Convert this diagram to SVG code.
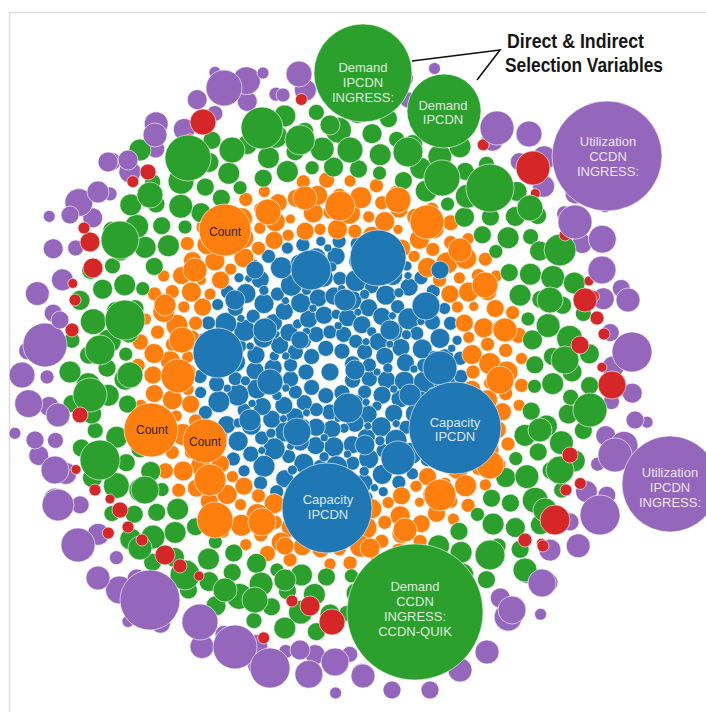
<svg xmlns="http://www.w3.org/2000/svg" width="706" height="712" viewBox="0 0 706 712">
<style>
.b{fill:#1f77b4}.o{fill:#ff7f0e}.g{fill:#2ca02c}.r{fill:#d62728}.p{fill:#9467bd}
.lt{font-family:"Liberation Sans",Arial,sans-serif;font-size:13px;fill:#fff;fill-opacity:.85;text-anchor:middle;stroke:none}
.ct{font-family:"Liberation Sans",Arial,sans-serif;font-size:12px;fill:#3a1e08;text-anchor:middle;stroke:none}
.ann{font-family:"Liberation Sans",Arial,sans-serif;font-weight:bold;font-size:21px;fill:#161616}
</style>
<defs>
<g id="wb">
<circle transform="rotate(20)" cx="24" r="8"/><circle transform="rotate(10)" cx="40" r="8"/><circle transform="rotate(30)" cx="40" r="7"/>
<circle transform="rotate(8)" cx="57" r="9"/><circle transform="rotate(24)" cx="57" r="9"/><circle transform="rotate(36)" cx="58" r="5"/>
<circle transform="rotate(7)" cx="75" r="10"/><circle transform="rotate(21)" cx="75" r="9"/><circle transform="rotate(33)" cx="76" r="9"/>
<circle transform="rotate(6)" cx="95" r="11"/><circle transform="rotate(16)" cx="95" r="7"/><circle transform="rotate(26)" cx="95" r="10"/><circle transform="rotate(36)" cx="94" r="7"/>
<circle transform="rotate(5)" cx="115" r="11"/><circle transform="rotate(14)" cx="114" r="8"/><circle transform="rotate(23)" cx="115" r="10"/><circle transform="rotate(33)" cx="116" r="9"/>
<circle transform="rotate(2)" cx="131" r="7"/><circle transform="rotate(11)" cx="131" r="6"/><circle transform="rotate(18)" cx="130" r="7"/><circle transform="rotate(26)" cx="131" r="5"/><circle transform="rotate(34)" cx="131" r="7"/>
<circle transform="rotate(14)" cx="85" r="5"/><circle transform="rotate(11)" cx="104" r="4"/><circle transform="rotate(31)" cx="105" r="5"/><circle transform="rotate(15)" cx="66" r="4"/><circle transform="rotate(38)" cx="84" r="4"/><circle transform="rotate(29)" cx="124" r="4"/><circle transform="rotate(0)" cx="47" r="4"/>
</g>
<g id="wo">
<circle transform="rotate(3)" cx="143" r="9"/><circle transform="rotate(9)" cx="143" r="6"/><circle transform="rotate(16)" cx="143" r="10"/><circle transform="rotate(23)" cx="143" r="7"/><circle transform="rotate(30)" cx="143" r="9"/><circle transform="rotate(36)" cx="143" r="6"/>
<circle transform="rotate(7)" cx="160" r="10"/><circle transform="rotate(13)" cx="160" r="7"/><circle transform="rotate(20)" cx="160" r="11"/><circle transform="rotate(27)" cx="160" r="6"/><circle transform="rotate(33)" cx="160" r="10"/><circle transform="rotate(38.5)" cx="158" r="5"/>
<circle transform="rotate(2)" cx="177" r="9"/><circle transform="rotate(9)" cx="177" r="10"/><circle transform="rotate(16)" cx="177" r="7"/><circle transform="rotate(23)" cx="177" r="11"/><circle transform="rotate(30)" cx="177" r="7"/><circle transform="rotate(36)" cx="177" r="9"/>
<circle transform="rotate(5)" cx="192" r="7"/><circle transform="rotate(12)" cx="192" r="8"/><circle transform="rotate(19)" cx="192" r="6"/><circle transform="rotate(27)" cx="192" r="7"/><circle transform="rotate(33)" cx="192" r="6"/>
</g>
<g id="wg">
<circle transform="rotate(3)" cx="205" r="9"/><circle transform="rotate(10)" cx="205" r="11"/><circle transform="rotate(17)" cx="205" r="7"/><circle transform="rotate(23)" cx="205" r="10"/><circle transform="rotate(30)" cx="205" r="9"/><circle transform="rotate(36)" cx="205" r="7"/>
<circle transform="rotate(6)" cx="223" r="11"/><circle transform="rotate(13)" cx="223" r="9"/><circle transform="rotate(20)" cx="223" r="12"/><circle transform="rotate(28)" cx="223" r="9"/><circle transform="rotate(35)" cx="223" r="11"/>
<circle transform="rotate(2)" cx="242" r="10"/><circle transform="rotate(9)" cx="242" r="12"/><circle transform="rotate(16)" cx="242" r="9"/><circle transform="rotate(24)" cx="242" r="13"/><circle transform="rotate(32)" cx="242" r="10"/><circle transform="rotate(38)" cx="242" r="8"/>
<circle transform="rotate(5)" cx="260" r="9"/><circle transform="rotate(12)" cx="260" r="11"/><circle transform="rotate(19)" cx="260" r="8"/><circle transform="rotate(28)" cx="260" r="10"/><circle transform="rotate(35)" cx="260" r="9"/>
</g>
<g id="wr">
<circle transform="rotate(16)" cx="274" r="6"/><circle transform="rotate(31)" cx="272" r="5"/>
</g>
<g id="wp">
<circle transform="rotate(3)" cx="283" r="9"/><circle transform="rotate(10)" cx="283" r="11"/><circle transform="rotate(17)" cx="283" r="8"/><circle transform="rotate(24)" cx="283" r="10"/><circle transform="rotate(30)" cx="283" r="7"/><circle transform="rotate(36)" cx="283" r="11"/>
<circle transform="rotate(6)" cx="303" r="12"/><circle transform="rotate(15)" cx="303" r="10"/><circle transform="rotate(25)" cx="303" r="14"/><circle transform="rotate(35)" cx="303" r="9"/><circle transform="rotate(20)" cx="321" r="6"/>
</g>
</defs>
<rect width="706" height="712" fill="#fff"/>
<path d="M9.5 712V12.5H706" fill="none" stroke="#dcdcdc" stroke-width="1.5"/>
<g id="bubbles" stroke="#fff" stroke-width="0.6">
<g id="texture" transform="translate(330 372)">
<circle class="b" r="9"/>
<use href="#wb" class="b"/><use href="#wb" class="b" transform="rotate(40)"/><use href="#wb" class="b" transform="rotate(80)"/><use href="#wb" class="b" transform="rotate(120)"/><use href="#wb" class="b" transform="rotate(160)"/><use href="#wb" class="b" transform="rotate(200)"/><use href="#wb" class="b" transform="rotate(240)"/><use href="#wb" class="b" transform="rotate(280)"/><use href="#wb" class="b" transform="rotate(320)"/>
<use href="#wo" class="o" transform="rotate(17)"/><use href="#wo" class="o" transform="rotate(57)"/><use href="#wo" class="o" transform="rotate(97)"/><use href="#wo" class="o" transform="rotate(137)"/><use href="#wo" class="o" transform="rotate(177)"/><use href="#wo" class="o" transform="rotate(217)"/><use href="#wo" class="o" transform="rotate(257)"/><use href="#wo" class="o" transform="rotate(297)"/><use href="#wo" class="o" transform="rotate(337)"/>
<use href="#wg" class="g" transform="rotate(8)"/><use href="#wg" class="g" transform="rotate(48)"/><use href="#wg" class="g" transform="rotate(88)"/><use href="#wg" class="g" transform="rotate(128)"/><use href="#wg" class="g" transform="rotate(168)"/><use href="#wg" class="g" transform="rotate(208)"/><use href="#wg" class="g" transform="rotate(248)"/><use href="#wg" class="g" transform="rotate(288)"/><use href="#wg" class="g" transform="rotate(328)"/>
<use href="#wp" class="p" transform="rotate(29)"/><use href="#wp" class="p" transform="rotate(69)"/><use href="#wp" class="p" transform="rotate(109)"/><use href="#wp" class="p" transform="rotate(149)"/><use href="#wp" class="p" transform="rotate(189)"/><use href="#wp" class="p" transform="rotate(229)"/><use href="#wp" class="p" transform="rotate(269)"/><use href="#wp" class="p" transform="rotate(309)"/><use href="#wp" class="p" transform="rotate(349)"/>
<use href="#wr" class="r" transform="rotate(8)"/><use href="#wr" class="r" transform="rotate(48)"/><use href="#wr" class="r" transform="rotate(88)"/><use href="#wr" class="r" transform="rotate(128)"/><use href="#wr" class="r" transform="rotate(168)"/><use href="#wr" class="r" transform="rotate(208)"/><use href="#wr" class="r" transform="rotate(248)"/><use href="#wr" class="r" transform="rotate(288)"/><use href="#wr" class="r" transform="rotate(328)"/>
</g>
<g id="blue-bubbles" class="b">
<circle cx="378" cy="258" r="28"/><circle cx="311" cy="270" r="20"/><circle cx="426" cy="306" r="14"/><circle cx="218" cy="353" r="25"/><circle cx="440" cy="368" r="17"/><circle cx="398" cy="458" r="17"/><circle cx="348" cy="408" r="15"/><circle cx="265" cy="330" r="12"/><circle cx="270" cy="382" r="13"/><circle cx="297" cy="432" r="14"/><circle cx="345" cy="300" r="11"/><circle cx="390" cy="330" r="10"/><circle cx="250" cy="420" r="11"/><circle cx="300" cy="340" r="9"/><circle cx="410" cy="395" r="11"/><circle cx="365" cy="445" r="10"/><circle cx="235" cy="300" r="10"/><circle cx="440" cy="270" r="9"/><circle cx="355" cy="370" r="10"/><circle cx="255" cy="270" r="9"/>
</g>
<g id="orange-bubbles" class="o">
<circle cx="340" cy="206" r="15"/><circle cx="305" cy="198" r="12"/><circle cx="398" cy="200" r="13"/><circle cx="427" cy="222" r="17"/><circle cx="268" cy="212" r="13"/><circle cx="460" cy="250" r="12"/><circle cx="485" cy="285" r="13"/><circle cx="505" cy="330" r="12"/><circle cx="500" cy="380" r="14"/><circle cx="490" cy="465" r="14"/><circle cx="440" cy="495" r="16"/><circle cx="405" cy="530" r="12"/><circle cx="262" cy="522" r="14"/><circle cx="215" cy="520" r="18"/><circle cx="210" cy="480" r="16"/><circle cx="178" cy="376" r="17"/><circle cx="182" cy="340" r="13"/><circle cx="165" cy="305" r="11"/><circle cx="195" cy="270" r="12"/><circle cx="370" cy="548" r="10"/><circle cx="285" cy="546" r="9"/>
</g>
<g id="green-bubbles" class="g">
<circle cx="188" cy="158" r="23"/><circle cx="262" cy="128" r="21"/><circle cx="232" cy="150" r="13"/><circle cx="300" cy="140" r="15"/><circle cx="330" cy="125" r="10"/><circle cx="350" cy="150" r="13"/><circle cx="408" cy="152" r="15"/><circle cx="442" cy="178" r="18"/><circle cx="490" cy="188" r="24"/><circle cx="530" cy="208" r="13"/><circle cx="150" cy="195" r="13"/><circle cx="140" cy="150" r="11"/><circle cx="120" cy="240" r="19"/><circle cx="125" cy="320" r="20"/><circle cx="100" cy="350" r="15"/><circle cx="90" cy="395" r="17"/><circle cx="130" cy="375" r="13"/><circle cx="100" cy="460" r="20"/><circle cx="145" cy="490" r="14"/><circle cx="140" cy="548" r="12"/><circle cx="185" cy="575" r="15"/><circle cx="225" cy="590" r="12"/><circle cx="255" cy="600" r="13"/><circle cx="285" cy="580" r="11"/><circle cx="490" cy="555" r="15"/><circle cx="525" cy="570" r="12"/><circle cx="560" cy="250" r="16"/><circle cx="550" cy="300" r="13"/><circle cx="565" cy="360" r="14"/><circle cx="590" cy="410" r="17"/><circle cx="560" cy="470" r="14"/><circle cx="545" cy="510" r="12"/><circle cx="540" cy="430" r="12"/>
</g>
<g id="red-bubbles" class="r">
<circle cx="203" cy="122" r="13"/><circle cx="148" cy="172" r="8"/><circle cx="90" cy="242" r="10"/><circle cx="93" cy="268" r="10"/><circle cx="75" cy="300" r="6"/><circle cx="72" cy="330" r="7"/><circle cx="80" cy="415" r="8"/><circle cx="120" cy="510" r="8"/><circle cx="128" cy="527" r="6"/><circle cx="165" cy="555" r="10"/><circle cx="310" cy="606" r="10"/><circle cx="332" cy="622" r="13"/><circle cx="533" cy="168" r="17"/><circle cx="585" cy="300" r="12"/><circle cx="612" cy="385" r="14"/><circle cx="580" cy="345" r="9"/><circle cx="570" cy="455" r="8"/><circle cx="555" cy="520" r="15"/><circle cx="525" cy="540" r="7"/><circle cx="95" cy="490" r="6"/>
<circle cx="142" cy="540" r="6"/><circle cx="180" cy="566" r="7"/><circle cx="199" cy="576" r="5"/><circle cx="110" cy="499" r="5"/><circle cx="597" cy="318" r="7"/><circle cx="604" cy="334" r="6"/><circle cx="565" cy="235" r="6"/><circle cx="589" cy="281" r="5"/><circle cx="543" cy="546" r="6"/><circle cx="566" cy="490" r="6"/><circle cx="292" cy="601" r="6"/><circle cx="84" cy="228" r="6"/>
</g>
<g id="purple-bubbles" class="p">
<circle cx="224" cy="88" r="18"/><circle cx="263" cy="73" r="6"/><circle cx="299" cy="74" r="13"/><circle cx="283" cy="95" r="7"/><circle cx="497" cy="128" r="17"/><circle cx="529" cy="134" r="13"/><circle cx="155" cy="135" r="12"/><circle cx="128" cy="160" r="10"/><circle cx="108" cy="162" r="10"/><circle cx="98" cy="192" r="11"/><circle cx="70" cy="215" r="9"/><circle cx="45" cy="345" r="22"/><circle cx="22" cy="375" r="13"/><circle cx="60" cy="320" r="9"/><circle cx="58" cy="415" r="12"/><circle cx="35" cy="440" r="9"/><circle cx="55" cy="470" r="14"/><circle cx="58" cy="505" r="16"/><circle cx="78" cy="545" r="17"/><circle cx="98" cy="578" r="12"/><circle cx="150" cy="600" r="30"/><circle cx="200" cy="622" r="18"/><circle cx="235" cy="647" r="22"/><circle cx="270" cy="668" r="20"/><circle cx="300" cy="650" r="10"/><circle cx="335" cy="662" r="14"/><circle cx="363" cy="676" r="12"/><circle cx="392" cy="690" r="9"/><circle cx="430" cy="690" r="9"/><circle cx="460" cy="670" r="12"/><circle cx="487" cy="652" r="12"/><circle cx="512" cy="610" r="14"/><circle cx="542" cy="583" r="14"/><circle cx="600" cy="515" r="20"/><circle cx="615" cy="455" r="17"/><circle cx="632" cy="352" r="20"/><circle cx="628" cy="300" r="12"/><circle cx="602" cy="270" r="14"/><circle cx="575" cy="222" r="17"/><circle cx="635" cy="420" r="9"/>
</g>
<g id="count-1"><circle class="o" cx="225" cy="230" r="26"/><text class="ct" x="225" y="236">Count</text></g>
<g id="count-2"><circle class="o" cx="151" cy="430" r="27"/><text class="ct" x="152" y="434">Count</text></g>
<g id="count-3"><circle class="o" cx="205" cy="441" r="22"/><text class="ct" x="205" y="446">Count</text></g>
<g id="capacity-ipcdn-1"><circle class="b" cx="455" cy="428" r="46"/><text class="lt" x="455" y="427">Capacity</text><text class="lt" x="455" y="441">IPCDN</text></g>
<g id="capacity-ipcdn-2"><circle class="b" cx="327" cy="508" r="45"/><text class="lt" x="328" y="504">Capacity</text><text class="lt" x="328" y="519">IPCDN</text></g>
<g id="demand-ipcdn-ingress"><circle class="g" cx="363" cy="73" r="49"/><text class="lt" x="363" y="72">Demand</text><text class="lt" x="363" y="87">IPCDN</text><text class="lt" x="363" y="102">INGRESS:</text></g>
<g id="demand-ipcdn"><circle class="g" cx="444" cy="111" r="37"/><text class="lt" x="443" y="110">Demand</text><text class="lt" x="443" y="124">IPCDN</text></g>
<g id="utilization-ccdn-ingress"><circle class="p" cx="607" cy="156" r="55"/><text class="lt" x="608" y="146">Utilization</text><text class="lt" x="608" y="161">CCDN</text><text class="lt" x="608" y="176">INGRESS:</text></g>
<g id="utilization-ipcdn-ingress"><circle class="p" cx="670" cy="484" r="48"/><text class="lt" x="670" y="477">Utilization</text><text class="lt" x="670" y="492">IPCDN</text><text class="lt" x="670" y="507">INGRESS:</text></g>
<g id="demand-ccdn-ingress"><circle class="g" cx="415" cy="612" r="68"/><text class="lt" x="415" y="591">Demand</text><text class="lt" x="415" y="606">CCDN</text><text class="lt" x="415" y="621">INGRESS:</text><text class="lt" x="415" y="636">CCDN-QUIK</text></g>
</g>
<g id="connectors"><polyline points="412,61 500,50 477,80" fill="none" stroke="#111" stroke-width="1.6"/></g>
<g id="annotation">
<text class="ann" x="507" y="48" textLength="137" lengthAdjust="spacingAndGlyphs">Direct &amp; Indirect</text>
<text class="ann" x="505" y="72" textLength="158" lengthAdjust="spacingAndGlyphs">Selection Variables</text>
</g>
</svg>
